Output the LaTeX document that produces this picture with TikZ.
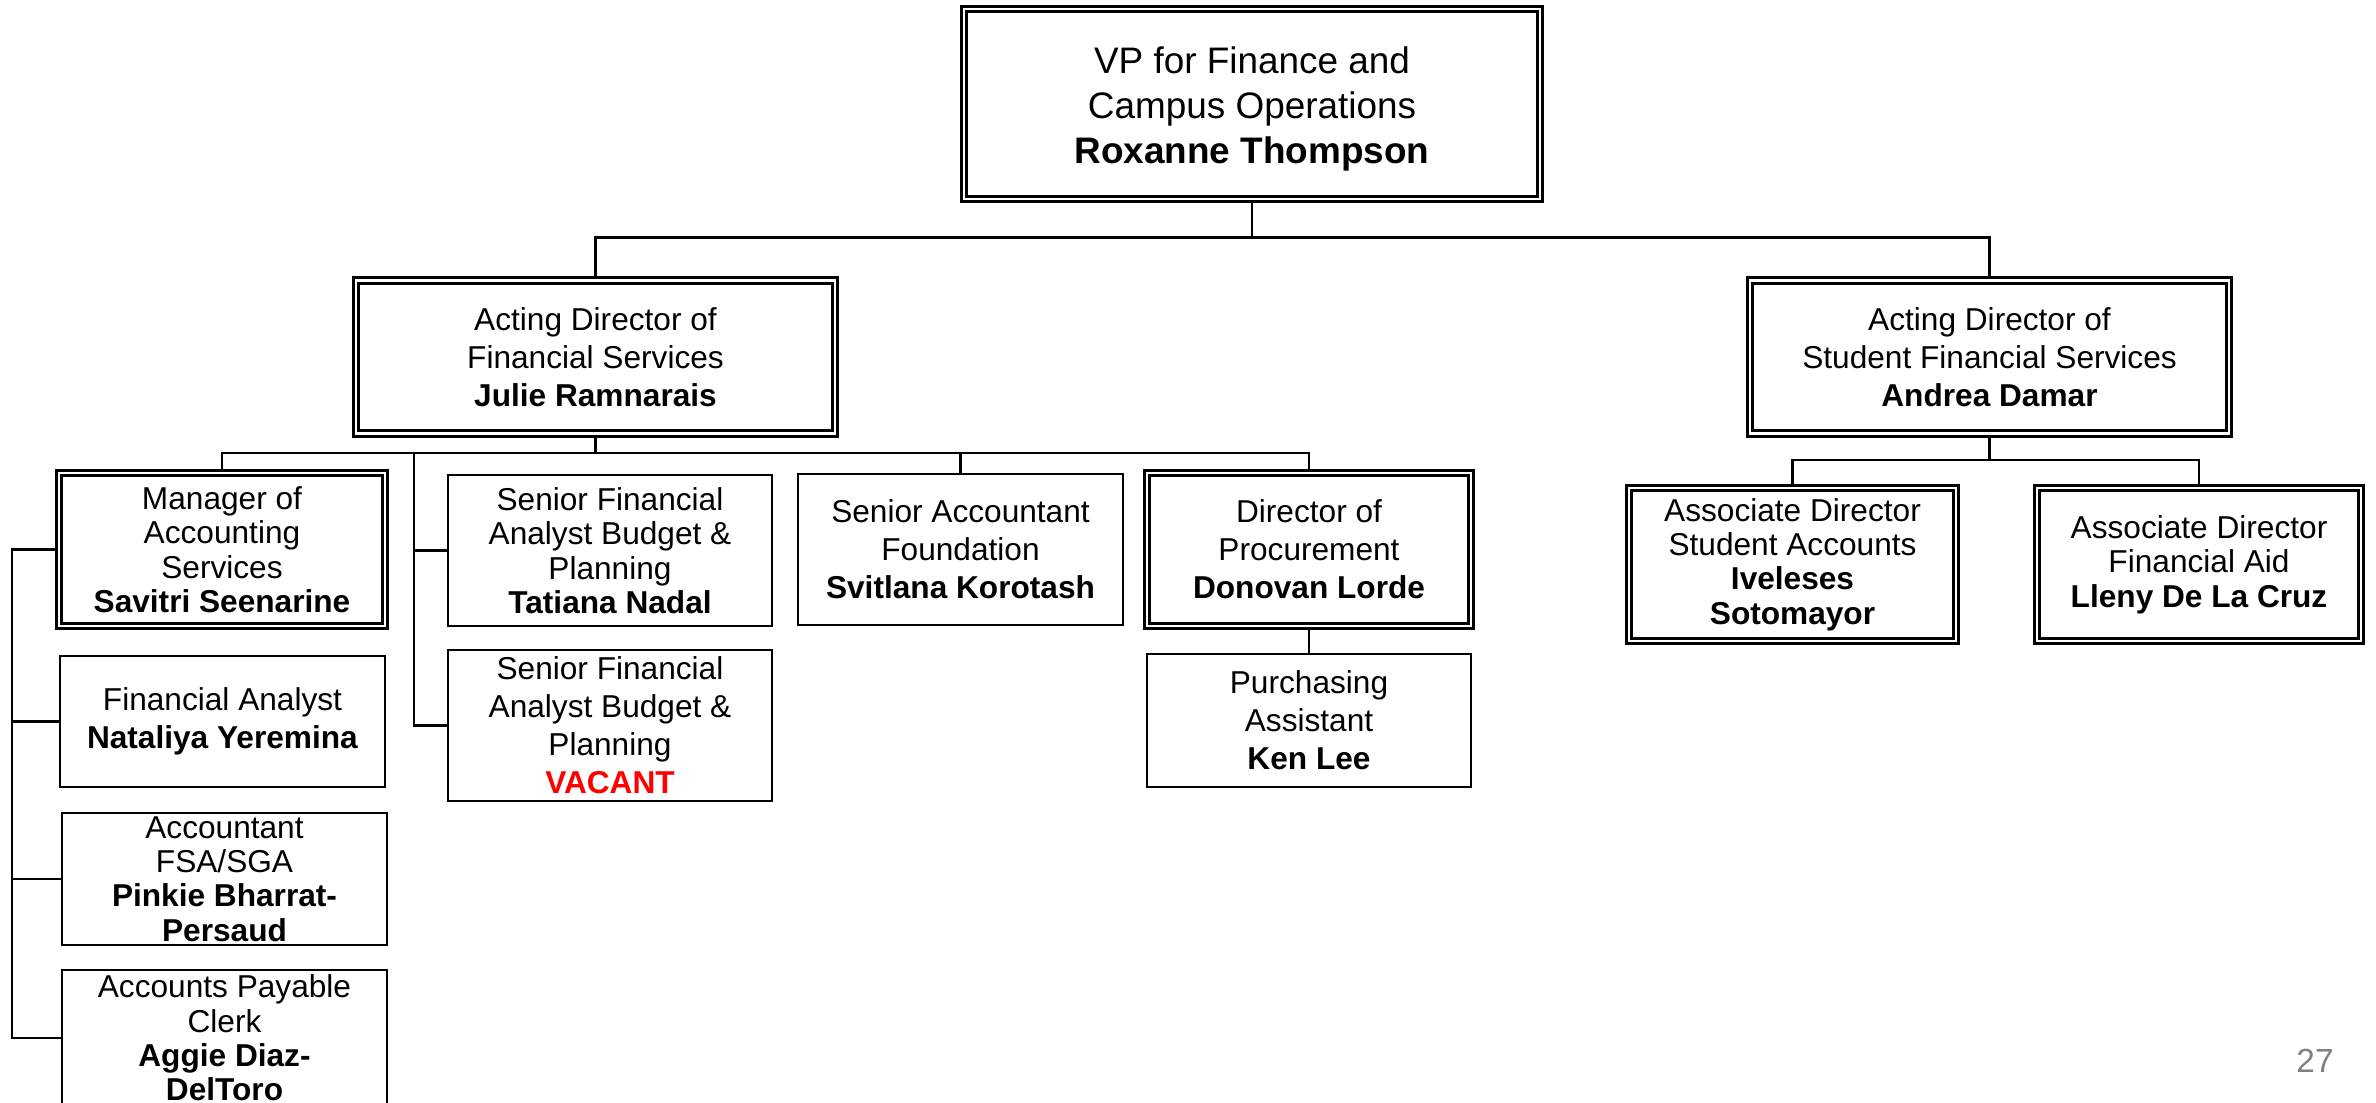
\documentclass[tikz,border=0pt]{standalone}
\usepackage{fontspec}
\setmainfont{Liberation Sans}
\usepackage{xcolor}
\definecolor{pagegray}{rgb}{0.5, 0.5, 0.5}
\usetikzlibrary{positioning,calc}

\begin{document}
\begin{tikzpicture}[line width=0.75pt, office/.style = {rectangle, draw, fill=white, inner sep=0pt, align=center, font=\fontsize{9pt}{10.8pt}\selectfont}, chief/.style = {office, double, double distance=0.8pt}, tight/.style = {font=\fontsize{9pt}{9.8pt}\selectfont}]

\useasboundingbox (0,0) rectangle (23.76,-11.02);

% top
\node[chief, minimum width=5.76cm, minimum height=1.90cm, font=\fontsize{10.5pt}{12.8pt}\selectfont] (vp) at (12.52,-1.04) {\rule{0pt}{10.5pt}VP for Finance and\\Campus Operations\\\textbf{Roxanne Thompson}};

% directors
\node[chief, minimum width=4.79cm, minimum height=1.53cm] (dfs) at (5.955,-3.57) {Acting Director of\\Financial Services\\\textbf{Julie Ramnarais}};
\node[chief, minimum width=4.79cm, minimum height=1.53cm] (dsfs) at (19.895,-3.57) {Acting Director of\\Student Financial Services\\\textbf{Andrea Damar}};

% financial services
\node[chief, tight, minimum width=3.26cm, minimum height=1.53cm] (mas) at (2.22,-5.495) {Manager of\\Accounting\\Services\\\textbf{Savitri Seenarine}};
\node[office, minimum width=3.25cm, minimum height=1.31cm] (fa) at (2.225,-7.215) {Financial Analyst\\\textbf{Nataliya Yeremina}};
\node[office, tight, minimum width=3.25cm, minimum height=1.32cm] (acc) at (2.245,-8.79) {Accountant\\FSA/SGA\\\textbf{Pinkie Bharrat-}\\\textbf{Persaud}};
\node[office, tight, minimum width=3.25cm, minimum height=1.36cm] (ap) at (2.245,-10.38) {Accounts Payable\\Clerk\\\textbf{Aggie Diaz-}\\\textbf{DelToro}};
\node[office, tight, minimum width=3.24cm, minimum height=1.51cm] (sfa1) at (6.10,-5.505) {Senior Financial\\Analyst Budget \&\\Planning\\\textbf{Tatiana Nadal}};
\node[office, minimum width=3.24cm, minimum height=1.51cm] (sfa2) at (6.10,-7.255) {Senior Financial\\Analyst Budget \&\\Planning\\\textcolor{red}{\textbf{VACANT}}};
\node[office, minimum width=3.25cm, minimum height=1.51cm] (saf) at (9.605,-5.495) {Senior Accountant\\Foundation\\\textbf{Svitlana Korotash}};
\node[chief, minimum width=3.24cm, minimum height=1.53cm] (dop) at (13.09,-5.495) {Director of\\Procurement\\\textbf{Donovan Lorde}};
\node[office, minimum width=3.24cm, minimum height=1.33cm] (pa) at (13.09,-7.205) {Purchasing\\Assistant\\\textbf{Ken Lee}};

% student financial services
\node[chief, tight, minimum width=3.27cm, minimum height=1.53cm] (adsa) at (17.925,-5.645) {Associate Director\\Student Accounts\\\textbf{Iveleses}\\\textbf{Sotomayor}};
\node[chief, tight, minimum width=3.24cm, minimum height=1.53cm] (adfa) at (21.99,-5.645) {Associate Director\\Financial Aid\\\textbf{Lleny De La Cruz}};

\node[text=pagegray, font=\fontsize{9.5pt}{11pt}\selectfont] (page) at (23.15,-10.61) {27};

\coordinate (sfaspine) at (4.14,-4.53);
\coordinate (acspine) at (0.12,-5.495);

\draw (vp.south) -- ++(0,-0.37) coordinate (vpbus);
\draw (dfs.north) |- (vpbus) -| (dsfs.north);
\draw (dfs.south) -- (dfs.south |- sfaspine) coordinate (fsbus);
\draw (mas.north) |- (fsbus) -| (dop.north);
\draw (saf.north) -- (saf.north |- fsbus);
\draw (sfaspine) |- (sfa2.west);
\draw (sfa1.west) -- (sfa1.west -| sfaspine);
\draw (mas.west) -- (acspine) |- (ap.west);
\draw (fa.west) -- (fa.west -| acspine);
\draw (acc.west) -- (acc.west -| acspine);
\draw (dop.south) -- (pa.north);
\draw (dsfs.south) -- ++(0,-0.25) coordinate (sfsbus);
\draw (adsa.north) |- (sfsbus) -| (adfa.north);
\end{tikzpicture}
\end{document}
